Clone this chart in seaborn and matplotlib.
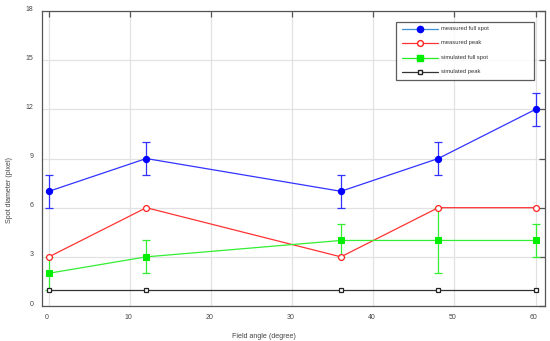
import matplotlib
matplotlib.use('Agg')
import matplotlib.pyplot as plt
import matplotlib.transforms as mtransforms
from matplotlib.lines import Line2D
import numpy as np
import seaborn as sns

# data
field_angle = [0, 12, 36, 48, 60]
measured_full = [7, 9, 7, 9, 12]
measured_full_err = [1, 1, 1, 1, 1]
measured_peak = [3, 6, 3, 6, 6]
simulated_full = [2, 3, 4, 4, 4]
simulated_full_err = [1, 1, 1, 2, 1]
simulated_peak = [1, 1, 1, 1, 1]

x_ticks = [0, 10, 20, 30, 40, 50, 60]
y_ticks = [0, 3, 6, 9, 12, 15, 18]

sns.set_theme(style='white')
plt.rcParams['font.family'] = ['Liberation Sans', 'DejaVu Sans']

fig = plt.figure(figsize=(5.5, 3.41), dpi=100)
ax = fig.add_axes([0.0764, 0.1026, 0.915, 0.865])

lw = 0.9
# error bars first so markers sit on top
ax.errorbar(field_angle, measured_full, yerr=measured_full_err, fmt='none',
            ecolor='#3333ff', elinewidth=lw, capsize=2.6, capthick=lw, zorder=3)
ax.errorbar(field_angle, simulated_full, yerr=simulated_full_err, fmt='none',
            ecolor='#33ee33', elinewidth=lw, capsize=2.6, capthick=lw, zorder=3)

sns.lineplot(x=field_angle, y=measured_full, ax=ax, color='#3333ff', lw=lw,
             marker='o', markersize=4.5, markerfacecolor='#0000ff',
             markeredgecolor='#0000ff', zorder=4)
sns.lineplot(x=field_angle, y=measured_peak, ax=ax, color='#ff3333', lw=lw,
             marker='o', markersize=4.2, markerfacecolor='white',
             markeredgecolor='#ff2222', markeredgewidth=0.9, zorder=4)
sns.lineplot(x=field_angle, y=simulated_full, ax=ax, color='#33ee33', lw=lw,
             marker='s', markersize=4.0, markerfacecolor='#00ee00',
             markeredgecolor='#00ee00', zorder=4)
sns.lineplot(x=field_angle, y=simulated_peak, ax=ax, color='#333333', lw=lw,
             marker='s', markersize=3.2, markerfacecolor='white',
             markeredgecolor='#222222', markeredgewidth=0.9, zorder=4)

ax.set_xlim(-0.85, 61.2)
ax.set_ylim(0, 18)
ax.set_xticks(x_ticks)
ax.set_yticks(y_ticks)
ax.grid(True, color='#e2e2e2', linewidth=0.9)
ax.set_axisbelow(True)

for s in ax.spines.values():
    s.set_color('#555555')
    s.set_linewidth(0.9)
ax.tick_params(direction='in', length=4, width=0.9, color='#555555',
               top=True, right=True, labelsize=5, labelcolor='#444444', pad=6)

# tick labels in the reference sit slightly off their ticks
dy = mtransforms.ScaledTranslation(0, 3 / 100, fig.dpi_scale_trans)
for lab in ax.get_yticklabels():
    lab.set_transform(lab.get_transform() + dy)
dx = mtransforms.ScaledTranslation(-2 / 100, 0, fig.dpi_scale_trans)
for lab in ax.get_xticklabels():
    lab.set_transform(lab.get_transform() + dx)

ax.set_xlabel('Field angle (degree)', fontsize=5.1, color='#444444')
ax.set_ylabel('Spot diameter (pixel)', fontsize=5.1, color='#444444')
ax.xaxis.set_label_coords(0.441, -0.092)
ax.yaxis.set_label_coords(-0.057, 0.393)

handles = [
    Line2D([], [], color='#3a8fd8', lw=lw, marker='o', markersize=4.5,
           markerfacecolor='#0000ff', markeredgecolor='#0000ff'),
    Line2D([], [], color='#ff3333', lw=lw, marker='o', markersize=4.2,
           markerfacecolor='white', markeredgecolor='#ff2222'),
    Line2D([], [], color='#22ee22', lw=lw, marker='s', markersize=4.0,
           markerfacecolor='#00ee00', markeredgecolor='#00ee00'),
    Line2D([], [], color='#333333', lw=lw, marker='s', markersize=3.2,
           markerfacecolor='white', markeredgecolor='#222222'),
]
labels = ['measured full spot', 'measured peak', 'simulated full spot', 'simulated peak']
leg = ax.legend(handles, labels, loc='upper left',
                bbox_to_anchor=(0.704, 0.76, 0.274, 0.203), mode='expand',
                fontsize=4.2, frameon=True, fancybox=False, handlelength=6.3,
                handletextpad=0.5, labelspacing=1.55, borderpad=0.9,
                borderaxespad=0, alignment='left')
leg.get_frame().set_edgecolor('#333333')
leg.get_frame().set_linewidth(0.9)
for t in leg.get_texts():
    t.set_va('bottom')
    t.set_color('#333333')

fig.savefig('out.png', dpi=100)
